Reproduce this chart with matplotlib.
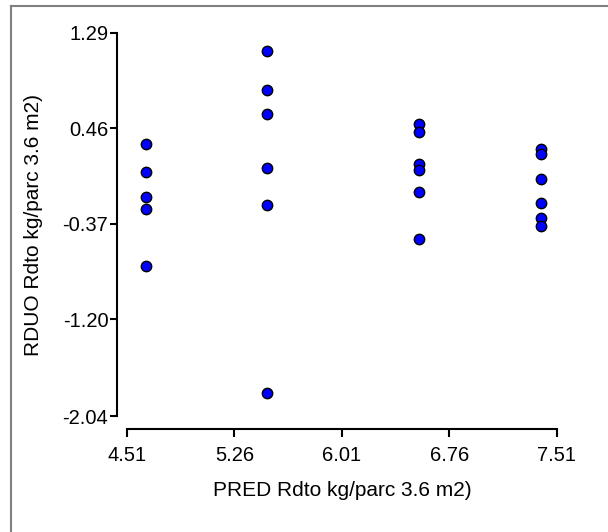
import numpy as np
import matplotlib
matplotlib.use('Agg')
import matplotlib.pyplot as plt
from matplotlib.lines import Line2D

# predicted yield (x) vs residual (y), four groups of points
pred = [4.64, 4.64, 4.64, 4.64, 4.64,
        5.49, 5.49, 5.49, 5.49, 5.49, 5.49,
        6.55, 6.55, 6.55, 6.55, 6.55, 6.55,
        7.40, 7.40, 7.40, 7.40, 7.40, 7.40]
resid = [0.324, 0.083, -0.138, -0.241, -0.737,
         1.135, 0.794, 0.585, 0.120, -0.207, -1.843,
         0.502, 0.427, 0.149, 0.097, -0.089, -0.502,
         0.278, 0.235, 0.017, -0.192, -0.321, -0.385]

xticks = [4.51, 5.26, 6.01, 6.76, 7.51]
yticks = [-2.04, -1.20, -0.37, 0.46, 1.29]

plt.rcParams['font.family'] = ['Liberation Sans', 'DejaVu Sans']

fig = plt.figure(figsize=(6.08, 5.32), dpi=100)
# grey frame round the figure (only top/left edges fall inside the image)
fx, fy = 11 / 608, 1 - 5.5 / 532
fig.lines.append(Line2D([fx, 1.0], [fy, fy], transform=fig.transFigure,
                        color='#808080', linewidth=1.5))
fig.lines.append(Line2D([fx, fx], [0.0, fy], transform=fig.transFigure,
                        color='#808080', linewidth=1.5))

ax = fig.add_axes([127 / 608, 1 - 416 / 532, 430 / 608, 383 / 532])
ax.scatter(pred, resid, s=56, c='#0000ff', edgecolors='black',
           linewidths=1.0, zorder=3, clip_on=False)

ax.set_xlim(xticks[0], xticks[-1])
ax.set_ylim(yticks[0], yticks[-1])
ax.set_xticks(xticks)
ax.set_xticklabels([f'{v:.2f}' for v in xticks])
ax.set_yticks(yticks)
ax.set_yticklabels([f'{v:.2f}' for v in yticks])

for s in ['top', 'right']:
    ax.spines[s].set_visible(False)
ax.spines['left'].set_position(('outward', 7))
ax.spines['bottom'].set_position(('outward', 9))
for s in ['left', 'bottom']:
    ax.spines[s].set_linewidth(1.5)

ax.tick_params(axis='x', direction='out', length=5.8, width=1.5,
               labelsize=14.5, pad=6.5)
ax.tick_params(axis='y', direction='out', length=5, width=1.5,
               labelsize=14.5, pad=1.5)

ax.set_xlabel('PRED Rdto kg/parc 3.6 m2)', fontsize=15, labelpad=12)
ax.set_ylabel('RDUO Rdto kg/parc 3.6 m2)', fontsize=15, labelpad=14)

fig.savefig('out.png', dpi=100, facecolor='white')
